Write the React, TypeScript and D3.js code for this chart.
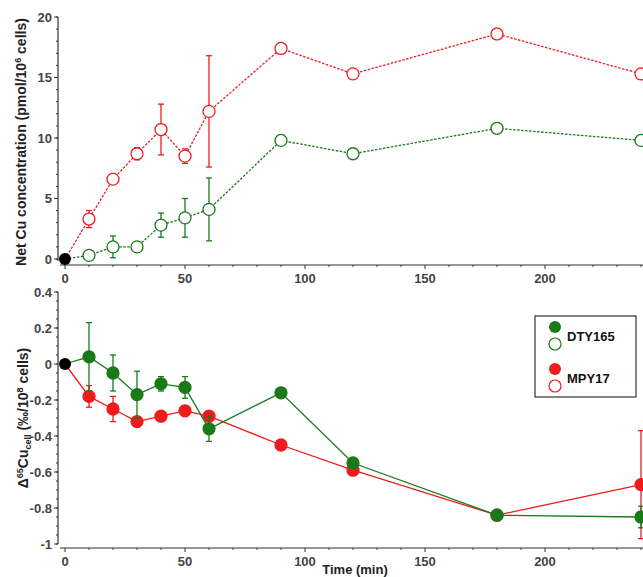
import React from "react"
import * as d3 from "d3"

const times = [0, 10, 20, 30, 40, 50, 60, 90, 120, 180, 240]
const cuRed = [0, 3.3, 6.6, 8.7, 10.7, 8.5, 12.2, 17.4, 15.3, 18.6, 15.3]
const cuRedErr = [0, 0.7, 0, 0.5, 2.1, 0.6, 4.6, 0, 0, 0, 0]
const cuGreen = [0, 0.3, 1.0, 1.0, 2.8, 3.4, 4.1, 9.8, 8.7, 10.8, 9.8]
const cuGreenErr = [0, 0, 0.9, 0, 1.0, 1.6, 2.6, 0, 0, 0, 0]
const dRed = [0, -0.18, -0.25, -0.32, -0.29, -0.26, -0.29, -0.45, -0.59, -0.84, -0.67]
const dRedErr = [0, 0.06, 0.07, 0, 0, 0, 0, 0, 0, 0, 0.3]
const dGreen = [0, 0.04, -0.05, -0.17, -0.11, -0.13, -0.36, -0.16, -0.55, -0.84, -0.85]
const dGreenErr = [0, 0.19, 0.1, 0.13, 0.04, 0.06, 0.07, 0, 0, 0, 0.06]
const xTicks = [0, 50, 100, 150, 200]
const topTicks = [0, 5, 10, 15, 20]
const botTicks = [0.4, 0.2, 0, -0.2, -0.4, -0.6, -0.8, -1]

const RED = "#ee1c1c"
const GREEN = "#1a7a1a"
const TXT = "#444"
const font = "Arial, 'Liberation Sans', sans-serif"

const x = d3.scaleLinear().domain([0, 240]).range([65, 641])
const yT = d3.scaleLinear().domain([0, 20]).range([259, 17])
const yB = d3.scaleLinear().domain([-1, 0.4]).range([544, 292])

function Series(props: { vals: number[]; errs: number[]; y: any; color: string; open: boolean; dash: string }) {
  const { vals, errs, y, color, open, dash } = props
  const line = d3.line<number>().x((_, i) => x(times[i])).y((v) => y(v))
  return (
    <g>
      <path d={line(vals) || ""} fill="none" stroke={color} strokeWidth={1.3} strokeDasharray={dash} />
      {vals.map((v, i) =>
        errs[i] > 0 ? (
          <g key={"e" + i} stroke={color} strokeWidth={1.3}>
            <line x1={x(times[i])} x2={x(times[i])} y1={y(v - errs[i])} y2={y(v + errs[i])} />
            <line x1={x(times[i]) - 3} x2={x(times[i]) + 3} y1={y(v - errs[i])} y2={y(v - errs[i])} />
            <line x1={x(times[i]) - 3} x2={x(times[i]) + 3} y1={y(v + errs[i])} y2={y(v + errs[i])} />
          </g>
        ) : null
      )}
      {vals.map((v, i) =>
        i === 0 ? null : (
          <circle key={i} cx={x(times[i])} cy={y(v)} r={6} fill={open ? "white" : color} stroke={color} strokeWidth={1.3} />
        )
      )}
    </g>
  )
}

function Axes(props: { y: any; ticks: number[]; minor: number[]; x0: number; yAxis: number; yTop: number }) {
  const { y, ticks, minor, x0, yAxis, yTop } = props
  const xMinor = d3.range(0, 241, 10)
  return (
    <g stroke="#333" fontFamily={font}>
      <line x1={x0} x2={x0} y1={yTop} y2={yAxis - 4} strokeWidth={1.2} />
      <line x1={x(0) - 5} x2={643} y1={yAxis} y2={yAxis} strokeWidth={1.2} />
      {minor.map((v) => (
        <line key={"m" + v} x1={x0 - 2} x2={x0} y1={y(v)} y2={y(v)} />
      ))}
      {ticks.map((v) => (
        <g key={v}>
          <line x1={x0 - 4} x2={x0} y1={y(v)} y2={y(v)} />
          <text x={x0 - 6} y={y(v) + 4.5} textAnchor="end" fontSize={13} fontWeight="bold" fill={TXT} stroke="none">
            {String(v)}
          </text>
        </g>
      ))}
      {xMinor.map((t) => (
        <line key={"xm" + t} x1={x(t)} x2={x(t)} y1={yAxis} y2={yAxis + (t % 50 === 0 ? 4 : 2)} />
      ))}
      {xTicks.map((t) => (
        <text key={"xt" + t} x={x(t)} y={yAxis + 18} textAnchor="middle" fontSize={13} fontWeight="bold" fill={TXT} stroke="none">
          {t}
        </text>
      ))}
    </g>
  )
}

export default function App() {
  return (
    <svg width={643} height={577} style={{ position: "absolute", left: 0, top: 0 }}>
      <rect width={643} height={577} fill="white" />
      <Axes y={yT} ticks={topTicks} minor={d3.range(0, 20.1, 1)} x0={58} yAxis={265} yTop={17} />
      <Axes y={yB} ticks={botTicks} minor={d3.range(-1, 0.41, 0.05)} x0={58} yAxis={548} yTop={292} />
      <Series vals={cuRed} errs={cuRedErr} y={yT} color={RED} open={true} dash="2.5,1.5" />
      <Series vals={cuGreen} errs={cuGreenErr} y={yT} color={GREEN} open={true} dash="2.5,1.5" />
      <circle cx={x(0)} cy={yT(0)} r={6} fill="black" />
      <Series vals={dRed} errs={dRedErr} y={yB} color={RED} open={false} dash="" />
      <Series vals={dGreen} errs={dGreenErr} y={yB} color={GREEN} open={false} dash="" />
      <circle cx={x(0)} cy={yB(0)} r={6} fill="black" />
      <text transform="translate(26,142) rotate(-90)" textAnchor="middle" fontFamily={font} fontSize={14} fontWeight="bold" fill="#222">
        Net Cu concentration (pmol/10<tspan dy={-5} fontSize={9}>6</tspan><tspan dy={5}> cells)</tspan>
      </text>
      <text transform="translate(28,418) rotate(-90)" textAnchor="middle" fontFamily={font} fontSize={14} fontWeight="bold" fill="#222">
        Δ<tspan dy={-5} fontSize={9}>65</tspan><tspan dy={5}>Cu</tspan><tspan dy={3} fontSize={9}>cell</tspan><tspan dy={-3}> (‰/10</tspan><tspan dy={-5} fontSize={9}>8</tspan><tspan dy={5}> cells)</tspan>
      </text>
      <text x={355} y={574} textAnchor="middle" fontFamily={font} fontSize={13} fontWeight="bold" fill="#222">Time (min)</text>
      <g fontFamily={font} fontSize={13} fontWeight="bold" fill="#111">
        <rect x={535} y={316} width={101} height={81} fill="white" stroke="#333" strokeWidth={1.2} />
        <circle cx={555} cy={327} r={6} fill={GREEN} />
        <circle cx={555} cy={344} r={6} fill="white" stroke={GREEN} strokeWidth={1.2} />
        <text x={567} y={341}>DTY165</text>
        <circle cx={555} cy={369} r={6} fill={RED} />
        <circle cx={555} cy={386} r={6} fill="white" stroke={RED} strokeWidth={1.2} />
        <text x={567} y={383}>MPY17</text>
      </g>
    </svg>
  )
}
